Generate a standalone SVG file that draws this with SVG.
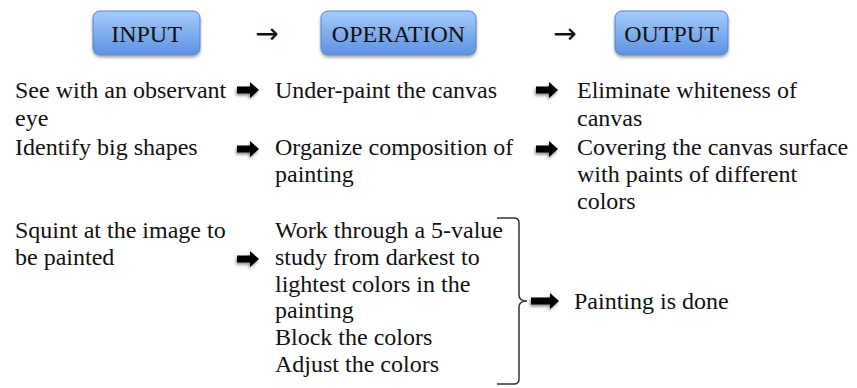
<svg xmlns="http://www.w3.org/2000/svg" xmlns:xlink="http://www.w3.org/1999/xlink" width="857" height="388" viewBox="0 0 857 388">
<defs>
<linearGradient id="boxgrad" x1="0" y1="0" x2="0" y2="1">
<stop offset="0" stop-color="#a6cbfb"/>
<stop offset="1" stop-color="#5c91e2"/>
</linearGradient>
<filter id="shadow" x="-20%" y="-20%" width="150%" height="170%">
<feDropShadow dx="0" dy="2" stdDeviation="1.5" flood-color="#000" flood-opacity="0.35"/>
</filter>
<filter id="ashadow" x="-30%" y="-50%" width="170%" height="220%">
<feDropShadow dx="-1" dy="2" stdDeviation="1.5" flood-color="#000" flood-opacity="0.45"/>
</filter>
<path id="barrow" d="M0,-3.5 H13 V-8 L22,0 L13,8 V3.5 H0 Z" fill="#000"/>
<path id="barrowlong" d="M0,-3.5 H19 V-8 L28,0 L19,8 V3.5 H0 Z" fill="#000"/>
</defs>
<style>
.box{fill:url(#boxgrad);stroke:#5584c8;stroke-width:1;filter:url(#shadow)}
.t{font-family:"Liberation Serif","Times New Roman",serif;font-size:24px;fill:#111}
.h{font-family:"Liberation Serif","Times New Roman",serif;font-size:24px;fill:#111;text-anchor:middle}
.sym{font-family:"DejaVu Sans",sans-serif;font-size:28px;fill:#111;text-anchor:middle}
.brace{fill:none;stroke:#333;stroke-width:1.5}
.ba{filter:url(#ashadow)}
</style>
<rect width="857" height="388" fill="#fff"/>
<g id="input">
<rect class="box" x="93" y="11" width="107" height="44" rx="7"/>
<text class="h" x="146.5" y="42">INPUT</text>
</g>
<g id="operation">
<rect class="box" x="321" y="11" width="155" height="44" rx="7"/>
<text class="h" x="398.5" y="42">OPERATION</text>
</g>
<g id="output">
<rect class="box" x="615" y="11" width="113" height="44" rx="7"/>
<text class="h" x="671.5" y="42">OUTPUT</text>
</g>
<g id="connectors">
<text class="sym" x="267" y="43">→</text>
<text class="sym" x="565" y="43">→</text>
<use class="ba" xlink:href="#barrow" x="237" y="90"/>
<use class="ba" xlink:href="#barrow" x="536" y="90"/>
<use class="ba" xlink:href="#barrow" x="237" y="149"/>
<use class="ba" xlink:href="#barrow" x="536" y="149"/>
<use class="ba" xlink:href="#barrow" x="237" y="259"/>
<path class="brace" d="M497,218 L514,218 Q519,218 519,223 V295 Q519,301 527,301 Q519,301 519,307 V379 Q519,384 514,384 L497,384"/>
<use class="ba" xlink:href="#barrowlong" x="531" y="301"/>
</g>
<g id="col1">
<text class="t" x="15" y="98">See with an observant</text>
<text class="t" x="15" y="126">eye</text>
<text class="t" x="15" y="155">Identify big shapes</text>
<text class="t" x="15" y="238">Squint at the image to</text>
<text class="t" x="15" y="265">be painted</text>
</g>
<g id="col2">
<text class="t" x="275" y="98">Under-paint the canvas</text>
<text class="t" x="275" y="155">Organize composition of</text>
<text class="t" x="275" y="182">painting</text>
<text class="t" x="275" y="238">Work through a 5-value</text>
<text class="t" x="275" y="265">study from darkest to</text>
<text class="t" x="275" y="292">lightest colors in the</text>
<text class="t" x="275" y="318">painting</text>
<text class="t" x="275" y="345">Block the colors</text>
<text class="t" x="275" y="372">Adjust the colors</text>
</g>
<g id="col3">
<text class="t" x="577" y="98">Eliminate whiteness of</text>
<text class="t" x="577" y="126">canvas</text>
<text class="t" x="577" y="155">Covering the canvas surface</text>
<text class="t" x="577" y="182">with paints of different</text>
<text class="t" x="577" y="209">colors</text>
<text class="t" x="574" y="309">Painting is done</text>
</g>
</svg>
